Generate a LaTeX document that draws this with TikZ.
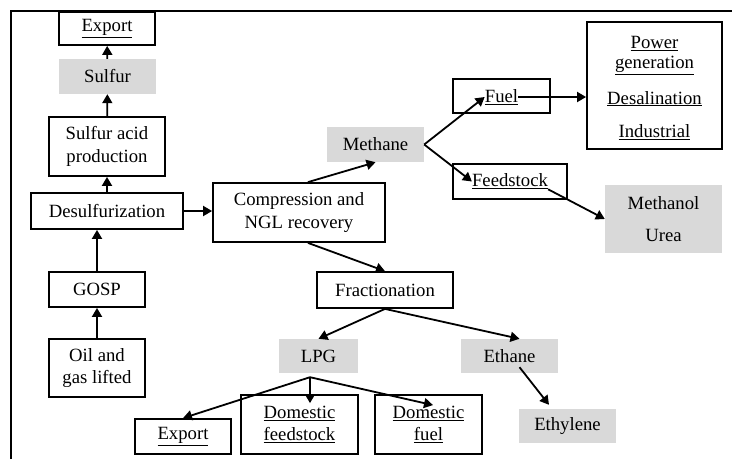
\documentclass[tikz,border=0pt]{standalone}
\usepackage{fontspec}
\setmainfont{Liberation Serif}
\usetikzlibrary{arrows.meta,calc}
\definecolor{shade}{RGB}{217,217,217}
\begin{document}
\begin{tikzpicture}[x=1pt,y=-1pt,
    font=\fontsize{18.7}{22.7}\selectfont,
    box/.style={draw,line width=1.8pt,align=center,inner sep=0pt},
    shadebox/.style={fill=shade,align=center,inner sep=0pt},
    txt/.style={inner sep=0pt,align=center}]
  \useasboundingbox (0,0) rectangle (732,459);
  \draw[line width=1.8pt] (11,459) -- (11,11) -- (732,11);
  % sulfur line
  \node[box,minimum width=96,minimum height=33] (export) at (107,28.5) {\underline{Export}};
  \node[shadebox,minimum width=97,minimum height=35] (sulfur) at (107.5,76.5) {Sulfur};
  \node[box,minimum width=116,minimum height=59] (acid) at (107,146.5) {Sulfur acid\\production};
  \node[box,minimum width=152,minimum height=36] (desulf) at (107,211) {Desulfurization};
  \node[box,minimum width=96,minimum height=35] (gosp) at (97,289.5) {GOSP};
  \node[box,minimum width=96,minimum height=58] (lifted) at (97,368) {Oil and\\gas lifted};
  % gas line
  \node[box,minimum width=172,minimum height=59] (ngl) at (299,212.5) {Compression and\\NGL recovery};
  \node[shadebox,minimum width=97,minimum height=35] (methane) at (375.5,144.5) {Methane};
  \node[box,minimum width=97,minimum height=34] (fuel) at (501.5,96) {};
  \node[txt] (fueltext) at ($(fuel)+(0,1)$) {\underline{Fuel}};
  \node[box,minimum width=114,minimum height=35] (feed) at (510,181.5) {};
  \node[txt] (feedtext) at (feed) {\underline{Feedstock}};
  \node[box,minimum width=135,minimum height=127] (power) at (654.5,85.5) {};
  \node[txt] (usetext) at ($(power)+(0,2.5)$)
    {\underline{Power}\\[-2.7pt]\underline{generation}\\[13pt]\underline{Desalination}\\[11pt]\underline{Industrial}};
  \node[shadebox,minimum width=117,minimum height=68] (chem) at (663.5,219) {Methanol\\[10pt]Urea};
  % liquids
  \node[box,minimum width=136,minimum height=36] (frac) at (385,290) {Fractionation};
  \node[shadebox,minimum width=79,minimum height=34] (lpg) at (318.5,356) {LPG};
  \node[shadebox,minimum width=97,minimum height=34] (ethane) at (509.5,356) {Ethane};
  \node[shadebox,minimum width=97,minimum height=34] (ethylene) at (567.5,426) {Ethylene};
  \node[box,minimum width=96,minimum height=35] (lpgexport) at (183,436.5) {\underline{Export}};
  \node[box,minimum width=117,minimum height=59] (domfeed) at (299.5,424.5) {\underline{Domestic}\\\underline{feedstock}};
  \node[box,minimum width=107,minimum height=59] (domfuel) at (428.5,424.5) {\underline{Domestic}\\\underline{fuel}};
  \coordinate (lpgfork) at ($(lpg.south)+(-8.5,4)$);
  \coordinate (feedtip) at ($(domfeed.north)+(10.5,9)$);
  \coordinate (fueltip) at ($(domfuel.north)+(4.5,11)$);
  \begin{scope}[-{Triangle[length=9pt,width=10pt]},line width=1.8pt]
    \draw (sulfur) to (export);
    \draw (acid) to (sulfur);
    \draw (desulf) to (acid);
    \draw (gosp.north) to (gosp.north |- desulf.south);
    \draw (lifted) to (gosp);
    \draw (desulf.east) to (desulf.east -| ngl.west);
    \draw ($(ngl.north)+(9,0)$) to (methane.south);
    \draw ($(ngl.south)+(9,0)$) to (frac.north);
    \draw (methane.east) to (fueltext.west);
    \draw (methane.east) to (feedtext.west);
    \draw (fueltext.east) to (fueltext.east -| power.west);
    \draw (feedtext.south east) to (chem.west);
    \draw (frac.south) to (lpg.north);
    \draw (frac.south) to ($(ethane.north)+(10,0)$);
    \draw (lpgfork) to (lpgexport.north);
    \draw (lpgfork) to (feedtip);
    \draw (lpgfork) to (fueltip);
    \draw ($(ethane.south)+(10,-6)$) to ($(ethylene.north)+(-18.5,-4)$);
  \end{scope}
\end{tikzpicture}
\end{document}
